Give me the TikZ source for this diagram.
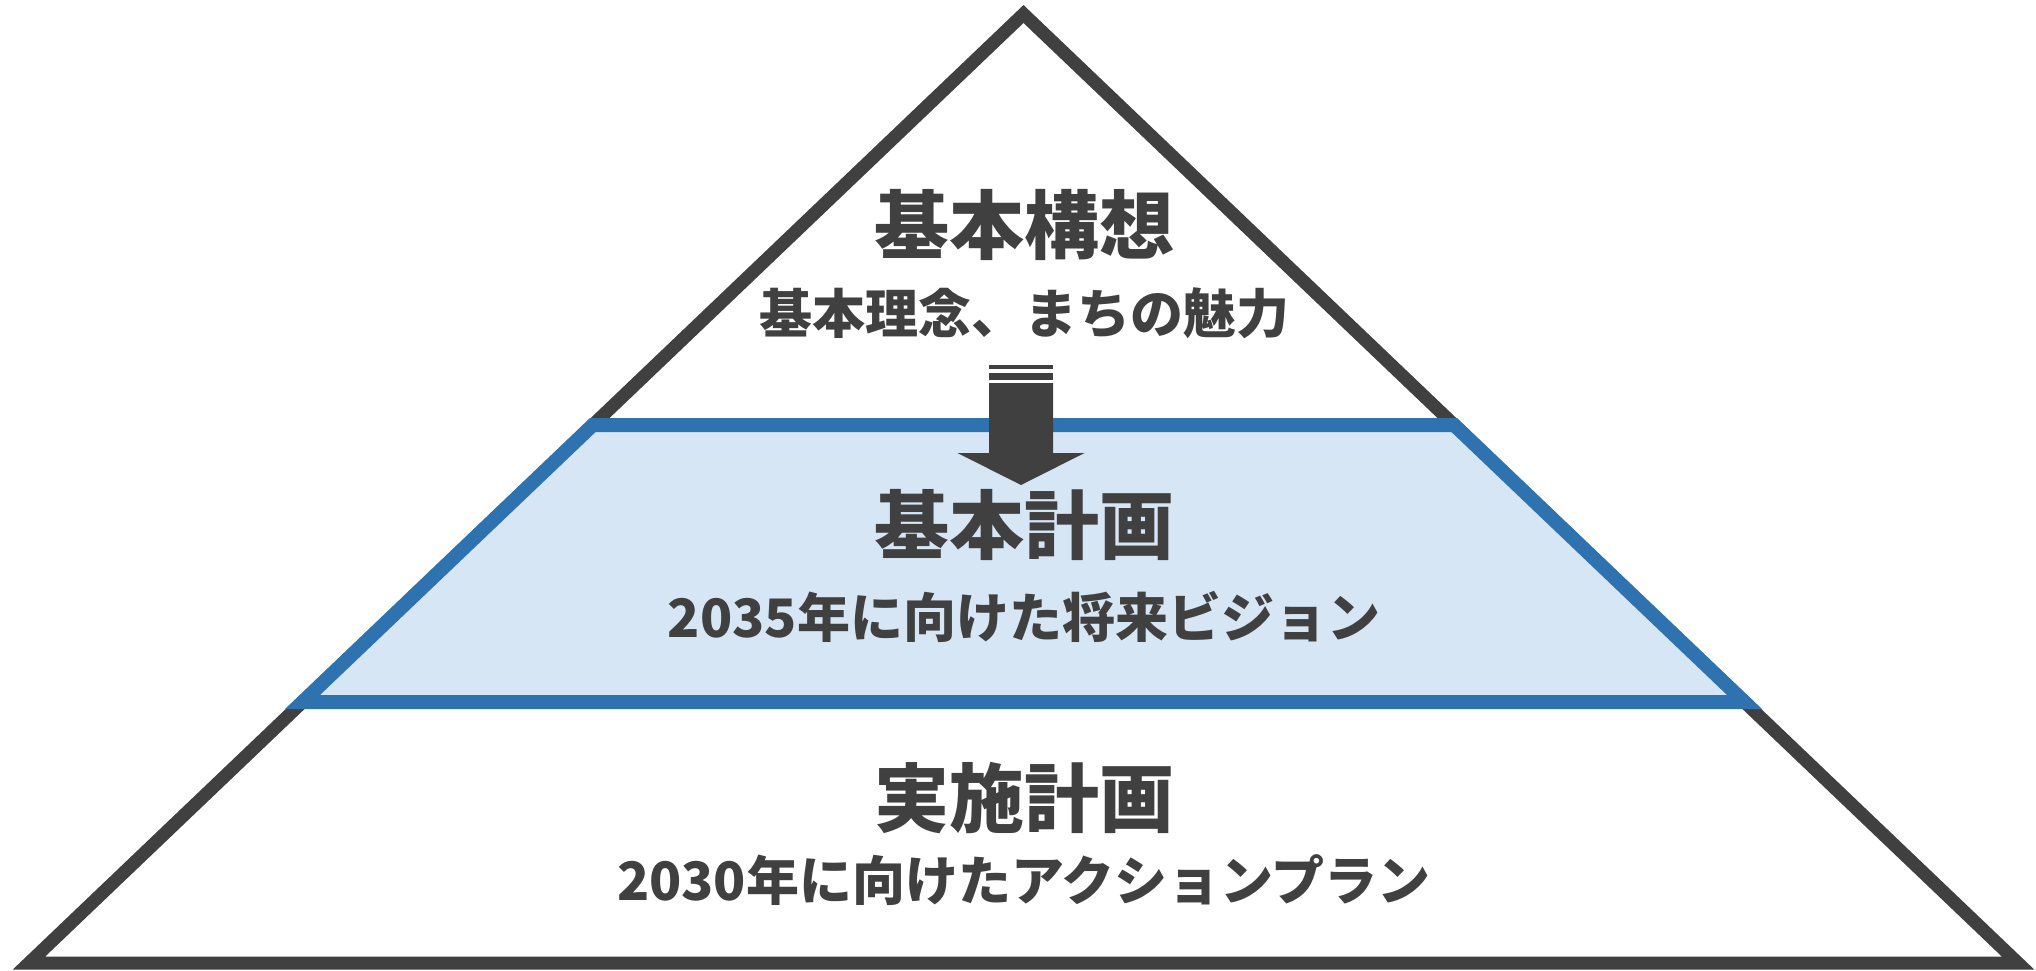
\documentclass[tikz,border=0pt]{standalone}
\usepackage{fontspec}
\newfontfamily\cjk{Noto Sans CJK JP}
\definecolor{dk}{HTML}{404040}
\definecolor{bl}{HTML}{2E72B0}
\definecolor{lb}{HTML}{D7E6F5}
\begin{document}
\begin{tikzpicture}[x=1pt,y=-1pt,
  titletext/.style={anchor=base, inner sep=0pt, text=dk, font=\cjk\bfseries\fontsize{75}{80}\selectfont},
  subtext/.style={anchor=base, inner sep=0pt, text=dk, font=\cjk\bfseries\fontsize{53}{60}\selectfont},
  outline/.style={draw=dk, line width=13pt, line join=miter, miter limit=10},
  band/.style={draw=bl, fill=lb, line width=14pt, line join=miter, miter limit=10}]
\useasboundingbox (0,0) rectangle (2036,970);
% pyramid
\coordinate (apex) at (1023.5,14);
\coordinate (bl) at (29,963);
\coordinate (br) at (2018,963);
\draw[outline, fill=white] (bl) -- (apex) -- (br) -- cycle;
% middle band
\coordinate (mtl) at (592.8,425);
\coordinate (mtr) at (1454.2,425);
\coordinate (mbr) at (1744.5,702);
\coordinate (mbl) at (302.5,702);
\draw[band] (mtl) -- (mtr) -- (mbr) -- (mbl) -- cycle;
% arrow
\fill[dk] (989,365) rectangle (1053,369);
\fill[dk] (989,373) rectangle (1053,380);
\fill[dk] (989,383) -- (1053,383) -- (1053,453) -- (1084.5,453) -- (1021,485) -- (957.5,453) -- (989,453) -- cycle;
% texts
\node[titletext] (t1) at (1024,253.5) {基本構想};
\node[subtext] (s1) at (1024,333) {基本理念、まちの魅力};
\node[titletext] (t2) at (1024,553.5) {基本計画};
\node[subtext] (s2) at (1024,637) {2035年に向けた将来ビジョン};
\node[titletext] (t3) at (1024,826.5) {実施計画};
\node[subtext] (s3) at (1024,900) {2030年に向けたアクションプラン};
\end{tikzpicture}
\end{document}
